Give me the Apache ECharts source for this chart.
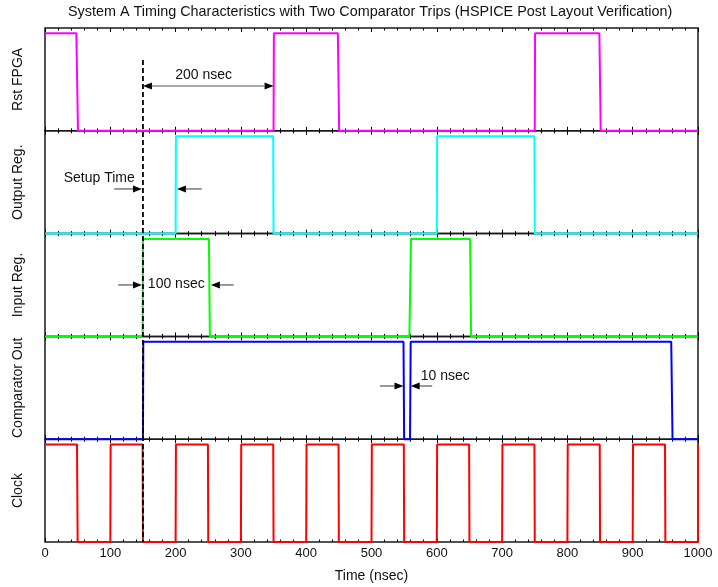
<!DOCTYPE html>
<html><head><meta charset="utf-8">
<script src="https://cdn.jsdelivr.net/npm/echarts@6/dist/echarts.min.js"></script>
<style>html,body{margin:0;padding:0;background:#fff}#c{width:718px;height:587px}</style>
</head><body><div id="c"></div>
<script>
const titleText = 'System A Timing Characteristics with Two Comparator Trips (HSPICE Post Layout Verification)';
const xAxisName = 'Time (nsec)';
const panelNames = ['Rst FPGA', 'Output Reg.', 'Input Reg.', 'Comparator Out', 'Clock'];
const xMin = 0, xMax = 1000, xInterval = 100;

const rstFpga = [[0,1],[48,1],[50.5,0],[350,0],[350.5,1],[448.5,1],[450.5,0],[750,0],[750.5,1],[849,1],[851,0],[1000,0]];
const outputReg = [[0,0],[200,0],[200.5,1],[349.5,1],[350,0],[600,0],[600.5,1],[749.5,1],[750,0],[1000,0]];
const inputReg = [[0,0],[149.5,0],[150,1],[251,1],[252.5,0],[558,0],[560.5,1],[651,1],[652.5,0],[1000,0]];
const comparatorOut = [[0,0],[150,0],[150.5,1],[549,1],[550,0],[559,0],[560,1],[959,1],[961,0],[1000,0]];
const clock = [[0,1],[49,1],[50,0],[100,0],[100.5,1],[149.5,1],[150,0],[200,0],[200.5,1],[249.5,1],[250,0],
  [300,0],[300.5,1],[349.5,1],[350,0],[400,0],[400.5,1],[449.5,1],[450,0],[500,0],[500.5,1],[549.5,1],[550,0],
  [600,0],[600.5,1],[649.5,1],[650,0],[700,0],[700.5,1],[749.5,1],[750,0],[800,0],[800.5,1],[849.5,1],[850,0],
  [900,0],[900.5,1],[949.5,1],[950,0],[1000,0],[1000,1]];
const signals = [rstFpga, outputReg, inputReg, comparatorOut, clock];

// annotations in data units: [panel, x, y]
const dashX = 150, dashTop = [0, 0.727], dashBottom = [4, 0];
const noteTexts = [
  {text:'200 nsec', at:[0, 243, 0.573]},
  {text:'Setup Time', at:[1, 83, 0.57]},
  {text:'100 nsec', at:[2, 201, 0.538]},
  {text:'10 nsec', at:[3, 613, 0.649]}
];
const noteArrows = [
  {from:[0, 250, 0.46], to:[0, 150, 0.46]},
  {from:[0, 250, 0.46], to:[0, 350, 0.46]},
  {from:[1, 106, 0.458], to:[1, 148.5, 0.458]},
  {from:[1, 240, 0.458], to:[1, 202, 0.458]},
  {from:[2, 112, 0.528], to:[2, 148.5, 0.528]},
  {from:[2, 289, 0.528], to:[2, 254, 0.528]},
  {from:[3, 513, 0.546], to:[3, 549, 0.546]},
  {from:[3, 593, 0.546], to:[3, 560, 0.546]}
];

const colors = ['#ff00ff', '#00ffff', '#00ff00', '#0000ff', '#ff0000'];
const FONT = 'Liberation Sans, Arial, sans-serif';
const plotTop = 28, panelH = 102.8, yMax = 1.055;

const grids = [], xAxes = [], yAxes = [], series = [];
panelNames.forEach((name, i) => {
  grids.push({left: 45, right: 20, top: plotTop + i * panelH, height: panelH,
    show: true, borderColor: '#1a1a1a', borderWidth: 1.5, backgroundColor: 'transparent'});
  ['bottom', 'top'].forEach(pos => {
    const isLabel = (pos === 'bottom' && i === panelNames.length - 1);
    xAxes.push({type: 'value', gridIndex: i, position: pos, min: xMin, max: xMax, interval: xInterval,
      axisLine: {show: false},
      axisTick: {show: true, inside: true, length: 4, lineStyle: {color: '#000', width: 1}},
      minorTick: {show: true, splitNumber: 5, length: 2.5, lineStyle: {color: '#000', width: 1}},
      splitLine: {show: false}, minorSplitLine: {show: false},
      axisLabel: {show: isLabel, margin: 5, fontSize: 13, color: '#111', fontFamily: FONT,
        formatter: v => String(v)},
      name: isLabel ? xAxisName : '', nameLocation: 'middle', nameGap: 27,
      nameTextStyle: {fontSize: 14, color: '#111', fontFamily: FONT}
    });
  });
  yAxes.push({type: 'value', gridIndex: i, min: 0, max: yMax,
    axisLine: {show: false}, axisTick: {show: false}, axisLabel: {show: false}, splitLine: {show: false},
    name: name, nameLocation: 'middle', nameGap: 20,
    nameTextStyle: {fontSize: 14, color: '#111', fontFamily: FONT}
  });
  series.push({type: 'line', xAxisIndex: i * 2, yAxisIndex: i, data: signals[i],
    showSymbol: false, symbol: 'none', clip: false, animation: false,
    lineStyle: {width: 2, color: colors[i]}, z: 3});
});

const chart = echarts.init(document.getElementById('c'), null, {renderer: 'canvas'});
chart.setOption({
  animation: false,
  backgroundColor: '#fff',
  title: {text: titleText, left: 68, top: 5, padding: 0,
    textStyle: {fontSize: 14.4, fontWeight: 'normal', color: '#111', fontFamily: FONT}},
  grid: grids, xAxis: xAxes, yAxis: yAxes, series: series
});

function px(p, x, y) { return chart.convertToPixel({xAxisIndex: p * 2, yAxisIndex: p}, [x, y]); }
const graphics = [];
const d0 = px(dashTop[0], dashX, dashTop[1]), d1 = px(dashBottom[0], dashX, dashBottom[1]);
graphics.push({type: 'line', z: 100, shape: {x1: d0[0], y1: d0[1], x2: d1[0], y2: d1[1]},
  style: {stroke: '#000', lineWidth: 1.8, lineDash: [5, 3]}});
noteArrows.forEach(a => {
  const p0 = px(a.from[0], a.from[1], a.from[2]);
  const p1 = px(a.to[0], a.to[1], a.to[2]);
  const dir = Math.sign(p1[0] - p0[0]);
  const hl = 9, hw = 3.5;
  graphics.push({type: 'line', z: 100, shape: {x1: p0[0], y1: p0[1], x2: p1[0] - dir * hl, y2: p1[1]},
    style: {stroke: '#555', lineWidth: 1.2}});
  graphics.push({type: 'polygon', z: 100,
    shape: {points: [[p1[0], p1[1]], [p1[0] - dir * hl, p1[1] - hw], [p1[0] - dir * hl, p1[1] + hw]]},
    style: {fill: '#000'}});
});
noteTexts.forEach(t => {
  const p = px(t.at[0], t.at[1], t.at[2]);
  graphics.push({type: 'text', z: 100, x: p[0], y: p[1],
    style: {text: t.text, fontSize: 14, fill: '#111', fontFamily: FONT, align: 'center', verticalAlign: 'middle'}});
});
chart.setOption({graphic: graphics});
</script>
</body></html>
